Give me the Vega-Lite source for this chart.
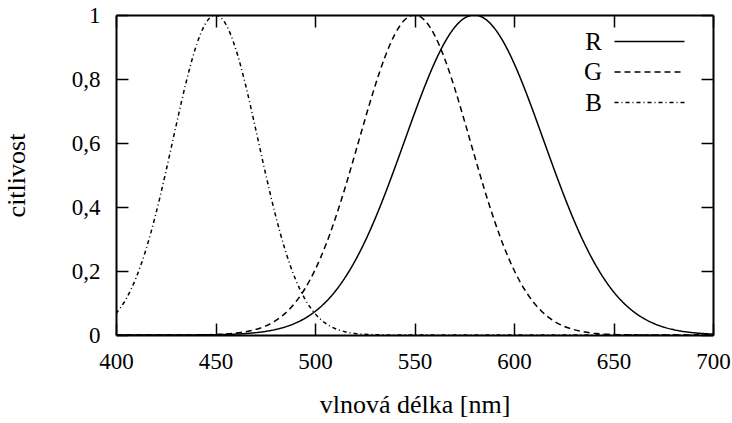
{
  "$schema": "https://vega.github.io/schema/vega-lite/v6.json",
  "width": 597,
  "height": 320,
  "autosize": {"type": "none"},
  "padding": {"left": 116, "top": 15, "right": 19, "bottom": 88},
  "background": "white",
  "config": {
    "font": "Liberation Serif, Times New Roman, serif",
    "view": {"stroke": null},
    "axis": {
      "grid": false,
      "domainColor": "black",
      "domainWidth": 2,
      "tickColor": "black",
      "tickWidth": 1.5,
      "tickSize": -12,
      "labelFont": "Liberation Serif, Times New Roman, serif",
      "labelFontSize": 23,
      "labelColor": "black",
      "labelFlush": false,
      "titleFont": "Liberation Serif, Times New Roman, serif",
      "titleFontSize": 26,
      "titleFontWeight": "normal",
      "titleColor": "black"
    }
  },
  "data": {
    "values": [
      {"x": 400, "s": "R", "y": 0}, {"x": 405, "s": "R", "y": 0}, {"x": 410, "s": "R", "y": 0}, {"x": 415, "s": "R", "y": 0}, {"x": 420, "s": "R", "y": 0}, {"x": 425, "s": "R", "y": 0.0001}, {"x": 430, "s": "R", "y": 0.0001}, {"x": 435, "s": "R", "y": 0.0002}, {"x": 440, "s": "R", "y": 0.0003}, {"x": 445, "s": "R", "y": 0.0006}, {"x": 450, "s": "R", "y": 0.001}, {"x": 455, "s": "R", "y": 0.0017}, {"x": 460, "s": "R", "y": 0.0028}, {"x": 465, "s": "R", "y": 0.0045}, {"x": 470, "s": "R", "y": 0.0072}, {"x": 475, "s": "R", "y": 0.0111}, {"x": 480, "s": "R", "y": 0.0169}, {"x": 485, "s": "R", "y": 0.0251}, {"x": 490, "s": "R", "y": 0.0367}, {"x": 495, "s": "R", "y": 0.0524}, {"x": 500, "s": "R", "y": 0.0734}, {"x": 505, "s": "R", "y": 0.1007}, {"x": 510, "s": "R", "y": 0.1353}, {"x": 515, "s": "R", "y": 0.1783}, {"x": 520, "s": "R", "y": 0.2301}, {"x": 525, "s": "R", "y": 0.2909}, {"x": 530, "s": "R", "y": 0.3604}, {"x": 535, "s": "R", "y": 0.4376}, {"x": 540, "s": "R", "y": 0.5205}, {"x": 545, "s": "R", "y": 0.6065}, {"x": 550, "s": "R", "y": 0.6926}, {"x": 555, "s": "R", "y": 0.7748}, {"x": 560, "s": "R", "y": 0.8494}, {"x": 565, "s": "R", "y": 0.9123}, {"x": 570, "s": "R", "y": 0.96}, {"x": 575, "s": "R", "y": 0.9898}, {"x": 580, "s": "R", "y": 1}, {"x": 585, "s": "R", "y": 0.9898}, {"x": 590, "s": "R", "y": 0.96}, {"x": 595, "s": "R", "y": 0.9123}, {"x": 600, "s": "R", "y": 0.8494}, {"x": 605, "s": "R", "y": 0.7748}, {"x": 610, "s": "R", "y": 0.6926}, {"x": 615, "s": "R", "y": 0.6065}, {"x": 620, "s": "R", "y": 0.5205}, {"x": 625, "s": "R", "y": 0.4376}, {"x": 630, "s": "R", "y": 0.3604}, {"x": 635, "s": "R", "y": 0.2909}, {"x": 640, "s": "R", "y": 0.2301}, {"x": 645, "s": "R", "y": 0.1783}, {"x": 650, "s": "R", "y": 0.1353}, {"x": 655, "s": "R", "y": 0.1007}, {"x": 660, "s": "R", "y": 0.0734}, {"x": 665, "s": "R", "y": 0.0524}, {"x": 670, "s": "R", "y": 0.0367}, {"x": 675, "s": "R", "y": 0.0251}, {"x": 680, "s": "R", "y": 0.0169}, {"x": 685, "s": "R", "y": 0.0111}, {"x": 690, "s": "R", "y": 0.0072}, {"x": 695, "s": "R", "y": 0.0045}, {"x": 700, "s": "R", "y": 0.0028},
      {"x": 400, "s": "G", "y": 0}, {"x": 405, "s": "G", "y": 0}, {"x": 410, "s": "G", "y": 0}, {"x": 415, "s": "G", "y": 0}, {"x": 420, "s": "G", "y": 0}, {"x": 425, "s": "G", "y": 0}, {"x": 430, "s": "G", "y": 0.0001}, {"x": 435, "s": "G", "y": 0.0002}, {"x": 440, "s": "G", "y": 0.0004}, {"x": 445, "s": "G", "y": 0.0009}, {"x": 450, "s": "G", "y": 0.0017}, {"x": 455, "s": "G", "y": 0.0032}, {"x": 460, "s": "G", "y": 0.0057}, {"x": 465, "s": "G", "y": 0.01}, {"x": 470, "s": "G", "y": 0.0169}, {"x": 475, "s": "G", "y": 0.0277}, {"x": 480, "s": "G", "y": 0.0439}, {"x": 485, "s": "G", "y": 0.0676}, {"x": 490, "s": "G", "y": 0.1007}, {"x": 495, "s": "G", "y": 0.1453}, {"x": 500, "s": "G", "y": 0.2031}, {"x": 505, "s": "G", "y": 0.2749}, {"x": 510, "s": "G", "y": 0.3604}, {"x": 515, "s": "G", "y": 0.4578}, {"x": 520, "s": "G", "y": 0.5633}, {"x": 525, "s": "G", "y": 0.6713}, {"x": 530, "s": "G", "y": 0.7748}, {"x": 535, "s": "G", "y": 0.8663}, {"x": 540, "s": "G", "y": 0.9382}, {"x": 545, "s": "G", "y": 0.9842}, {"x": 550, "s": "G", "y": 1}, {"x": 555, "s": "G", "y": 0.9842}, {"x": 560, "s": "G", "y": 0.9382}, {"x": 565, "s": "G", "y": 0.8663}, {"x": 570, "s": "G", "y": 0.7748}, {"x": 575, "s": "G", "y": 0.6713}, {"x": 580, "s": "G", "y": 0.5633}, {"x": 585, "s": "G", "y": 0.4578}, {"x": 590, "s": "G", "y": 0.3604}, {"x": 595, "s": "G", "y": 0.2749}, {"x": 600, "s": "G", "y": 0.2031}, {"x": 605, "s": "G", "y": 0.1453}, {"x": 610, "s": "G", "y": 0.1007}, {"x": 615, "s": "G", "y": 0.0676}, {"x": 620, "s": "G", "y": 0.0439}, {"x": 625, "s": "G", "y": 0.0277}, {"x": 630, "s": "G", "y": 0.0169}, {"x": 635, "s": "G", "y": 0.01}, {"x": 640, "s": "G", "y": 0.0057}, {"x": 645, "s": "G", "y": 0.0032}, {"x": 650, "s": "G", "y": 0.0017}, {"x": 655, "s": "G", "y": 0.0009}, {"x": 660, "s": "G", "y": 0.0004}, {"x": 665, "s": "G", "y": 0.0002}, {"x": 670, "s": "G", "y": 0.0001}, {"x": 675, "s": "G", "y": 0}, {"x": 680, "s": "G", "y": 0}, {"x": 685, "s": "G", "y": 0}, {"x": 690, "s": "G", "y": 0}, {"x": 695, "s": "G", "y": 0}, {"x": 700, "s": "G", "y": 0},
      {"x": 400, "s": "B", "y": 0.0669}, {"x": 405, "s": "B", "y": 0.1119}, {"x": 410, "s": "B", "y": 0.1772}, {"x": 415, "s": "B", "y": 0.2658}, {"x": 420, "s": "B", "y": 0.3778}, {"x": 425, "s": "B", "y": 0.5086}, {"x": 430, "s": "B", "y": 0.6488}, {"x": 435, "s": "B", "y": 0.784}, {"x": 440, "s": "B", "y": 0.8975}, {"x": 445, "s": "B", "y": 0.9733}, {"x": 450, "s": "B", "y": 1}, {"x": 455, "s": "B", "y": 0.9733}, {"x": 460, "s": "B", "y": 0.8975}, {"x": 465, "s": "B", "y": 0.784}, {"x": 470, "s": "B", "y": 0.6488}, {"x": 475, "s": "B", "y": 0.5086}, {"x": 480, "s": "B", "y": 0.3778}, {"x": 485, "s": "B", "y": 0.2658}, {"x": 490, "s": "B", "y": 0.1772}, {"x": 495, "s": "B", "y": 0.1119}, {"x": 500, "s": "B", "y": 0.0669}, {"x": 505, "s": "B", "y": 0.0379}, {"x": 510, "s": "B", "y": 0.0204}, {"x": 515, "s": "B", "y": 0.0104}, {"x": 520, "s": "B", "y": 0.005}, {"x": 525, "s": "B", "y": 0.0023}, {"x": 530, "s": "B", "y": 0.001}, {"x": 535, "s": "B", "y": 0.0004}, {"x": 540, "s": "B", "y": 0.0002}, {"x": 545, "s": "B", "y": 0.0001}, {"x": 550, "s": "B", "y": 0}, {"x": 555, "s": "B", "y": 0}, {"x": 560, "s": "B", "y": 0}, {"x": 565, "s": "B", "y": 0}, {"x": 570, "s": "B", "y": 0}, {"x": 575, "s": "B", "y": 0}, {"x": 580, "s": "B", "y": 0}, {"x": 585, "s": "B", "y": 0}, {"x": 590, "s": "B", "y": 0}, {"x": 595, "s": "B", "y": 0}, {"x": 600, "s": "B", "y": 0}, {"x": 605, "s": "B", "y": 0}, {"x": 610, "s": "B", "y": 0}, {"x": 615, "s": "B", "y": 0}, {"x": 620, "s": "B", "y": 0}, {"x": 625, "s": "B", "y": 0}, {"x": 630, "s": "B", "y": 0}, {"x": 635, "s": "B", "y": 0}, {"x": 640, "s": "B", "y": 0}, {"x": 645, "s": "B", "y": 0}, {"x": 650, "s": "B", "y": 0}, {"x": 655, "s": "B", "y": 0}, {"x": 660, "s": "B", "y": 0}, {"x": 665, "s": "B", "y": 0}, {"x": 670, "s": "B", "y": 0}, {"x": 675, "s": "B", "y": 0}, {"x": 680, "s": "B", "y": 0}, {"x": 685, "s": "B", "y": 0}, {"x": 690, "s": "B", "y": 0}, {"x": 695, "s": "B", "y": 0}, {"x": 700, "s": "B", "y": 0}
    ]
  },
  "layer": [
    {
      "mark": {"type": "line", "interpolate": "monotone", "strokeWidth": 1.5, "color": "black", "clip": true},
      "encoding": {
        "x": {
          "field": "x", "type": "quantitative",
          "scale": {"domain": [400, 700], "nice": false, "zero": false},
          "axis": {"orient": "bottom", "values": [400, 450, 500, 550, 600, 650, 700], "labelPadding": 27, "title": "vlnová délka [nm]", "titlePadding": 18}
        },
        "y": {
          "field": "y", "type": "quantitative",
          "scale": {"domain": [0, 1], "nice": false},
          "axis": {"orient": "left", "values": [0, 0.2, 0.4, 0.6, 0.8, 1], "labelPadding": 28, "labelExpr": "replace(format(datum.value, '.1~f'), '.', ',')", "title": "citlivost", "titlePadding": 42}
        },
        "strokeDash": {
          "field": "s", "type": "nominal",
          "scale": {"domain": ["R", "G", "B"], "range": [[1, 0], [6, 4], [4, 3, 1, 3]]},
          "legend": {
            "orient": "none", "legendX": 521, "legendY": 14, "title": null, "padding": 0,
            "symbolType": "M-5,0H5", "symbolSize": 196, "symbolStrokeWidth": 1.5, "symbolStrokeColor": "black", "symbolFillColor": "transparent",
            "labelFont": "Liberation Serif, Times New Roman, serif", "labelFontSize": 25, "labelColor": "black",
            "labelAlign": "right", "labelOffset": -60, "rowPadding": 4.5
          }
        }
      }
    },
    {
      "mark": {"type": "line", "opacity": 0},
      "encoding": {
        "x": {
          "field": "x", "type": "quantitative",
          "axis": {"orient": "top", "values": [400, 450, 500, 550, 600, 650, 700], "labels": false, "title": null}
        },
        "y": {
          "field": "y", "type": "quantitative",
          "axis": {"orient": "right", "values": [0, 0.2, 0.4, 0.6, 0.8, 1], "labels": false, "title": null}
        },
        "detail": {"field": "s", "type": "nominal"}
      }
    }
  ],
  "resolve": {"axis": {"x": "independent", "y": "independent"}}
}
